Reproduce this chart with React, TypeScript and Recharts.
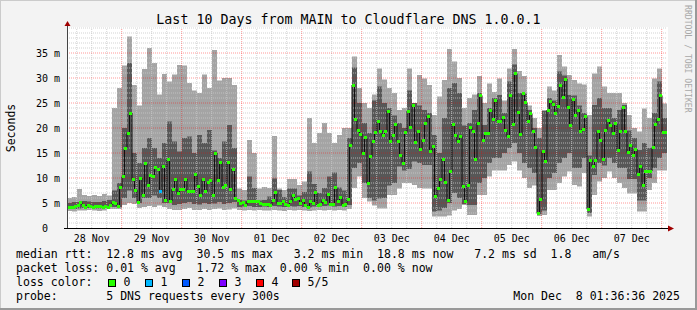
import React from 'react';
import { ComposedChart, Area, Line, XAxis, YAxis, ReferenceLine } from 'recharts';

const MONO = '"DejaVu Sans Mono", monospace';

// x axis: 2-hour buckets, 120 buckets over 10 days
const dayLabels = ['28 Nov', '29 Nov', '30 Nov', '01 Dec', '02 Dec', '03 Dec', '04 Dec', '05 Dec', '06 Dec', '07 Dec'];
const noonAt = [4.94, 16.94, 28.94, 40.94, 52.94, 64.94, 76.94, 88.94, 100.94, 112.94];
const midnightAt = [10.94, 22.94, 34.94, 46.94, 58.94, 70.94, 82.94, 94.94, 106.94, 118.94];
const yTicks = [0, 5, 10, 15, 20, 25, 30, 35];

// smoke (ms): outer band min..max, inner band lo..hi
const mins = [
  3.4, 3.3, 3.5, 3.5, 3.6, 3.5, 3.4, 3.5, 3.8,
  3.8, 3.8, 4.6, 5.0, 4.8, 4.0, 4.2, 4.4, 4.2, 4.5,
  4.2, 3.8, 3.6, 3.6, 3.8, 4.0, 3.6, 3.6, 3.8, 3.6, 3.8, 3.9, 3.6, 3.7, 3.9,
  3.6, 3.5, 3.6, 3.5, 3.6, 3.5,
  3.5, 3.6, 3.5, 3.4, 3.6, 3.5, 3.6, 3.5, 3.4, 3.5, 3.6, 3.5, 3.6, 3.5, 3.6, 3.5, 3.8,
  8.0, 10.3, 6.0,
  5.3, 4.5, 3.9, 3.9, 6.6, 6.6, 7.9, 9.0, 9.0, 8.6, 8.0, 7.9, 7.9, 2.3, 2.3, 2.3, 2.5, 3.5, 3.8, 4.6,
  2.6, 2.6, 6.6, 6.6, 10.3, 11.5, 11.5, 11.5, 12.6, 13.3, 11.5, 10.0, 8.0, 8.5, 2.4, 2.6, 7.6, 7.6, 9.0, 10.3,
  11.3, 8.6, 8.3, 11.0, 2.3, 6.6, 9.3, 10.0, 11.3, 10.0, 9.0, 8.0, 6.9, 6.9, 3.3, 3.3, 7.6, 9.0, 11.5, 11.5,
];
const los = [
  3.8, 3.8, 3.9, 4.0, 4.0, 3.9, 3.9, 4.0, 4.2,
  4.2, 4.2, 6.0, 7.5, 6.0, 5.0, 6.0, 6.0, 6.5, 6.0,
  5.0, 5.0, 4.6, 4.8, 5.0, 5.2, 4.8, 4.7, 5.0, 4.8, 4.9, 5.2, 4.8, 5.0, 5.2,
  4.2, 4.3, 4.4, 4.2, 4.2, 4.3,
  4.2, 4.4, 4.3, 4.2, 4.4, 4.3, 4.4, 4.2, 4.1, 4.3, 4.3, 4.4, 4.5, 4.3, 4.4, 4.2, 4.6,
  12.0, 13.0, 9.0,
  6.0, 5.5, 5.9, 6.0, 8.5, 9.0, 12.3, 11.5, 11.8, 13.3, 13.0, 12.6, 12.6, 3.3, 3.5, 4.0, 5.0, 7.0, 6.0, 4.8,
  4.6, 4.6, 9.0, 10.0, 13.0, 14.0, 14.0, 15.0, 16.0, 17.0, 15.0, 13.0, 12.0, 11.0, 2.8, 3.5, 10.0, 11.0, 13.0, 14.0,
  15.0, 12.0, 12.0, 14.0, 3.0, 10.6, 13.0, 12.5, 14.0, 13.0, 12.0, 12.0, 9.8, 9.8, 5.5, 5.5, 10.0, 12.0, 14.0, 15.0,
];
const his = [
  5.0, 5.2, 5.2, 5.4, 5.3, 5.2, 5.2, 5.4, 5.6,
  7.5, 9.0, 20.0, 33.0, 15.0, 13.0, 16.0, 18.0, 16.0, 14.0,
  17.0, 21.3, 17.3, 15.3, 18.0, 18.3, 15.0, 18.6, 17.0, 19.6, 15.5, 14.0, 17.3, 20.6, 16.0,
  5.6, 5.5, 10.3, 8.0, 5.5, 5.6,
  6.3, 9.9, 7.6, 6.2, 7.9, 7.9, 6.5, 7.2, 11.3, 8.8, 7.0, 8.0, 10.3, 11.1, 8.1, 7.5, 18.0,
  32.1, 25.0, 21.0,
  19.0, 25.5, 28.3, 25.0, 24.0, 22.5, 21.0, 20.0, 27.5, 25.0, 24.5, 23.6, 23.0, 18.6, 15.0, 22.0, 28.0, 29.0, 27.0, 20.5,
  21.0, 23.6, 27.0, 20.6, 24.0, 26.0, 26.6, 23.0, 29.3, 32.7, 27.0, 27.0, 23.6, 20.0, 18.0, 23.5, 26.0, 25.5, 31.3, 30.5,
  26.6, 26.5, 24.5, 23.0, 14.5, 24.6, 26.0, 24.0, 24.0, 22.0, 23.6, 24.6, 19.5, 18.0, 15.6, 17.0, 16.0, 23.0, 29.3, 22.0,
];
const maxs = [
  6.0, 6.2, 7.8, 6.6, 6.4, 6.6, 6.4, 6.8, 6.5,
  24.0, 28.0, 32.5, 38.3, 28.6, 24.5, 31.8, 36.0, 33.0, 26.7,
  30.8, 29.3, 30.7, 32.6, 32.5, 29.0, 27.5, 27.0, 30.7, 28.0, 35.6, 29.5, 30.0, 30.0, 28.6,
  7.9, 7.6, 17.6, 15.0, 7.9, 8.2,
  8.0, 18.4, 7.9, 7.6, 9.8, 9.8, 8.6, 9.3, 22.0, 17.0, 19.0, 21.0, 19.0, 17.0, 18.6, 20.0, 20.0,
  34.3, 28.0, 25.0,
  24.0, 26.7, 31.9, 29.7, 28.0, 27.0, 23.6, 24.0, 31.9, 25.0, 30.6, 29.9, 28.6, 22.6, 26.3, 29.6, 35.8, 33.3, 30.0, 24.0,
  26.0, 26.7, 30.4, 25.0, 28.9, 27.2, 29.9, 25.5, 31.9, 35.8, 31.4, 30.4, 24.5, 22.0, 20.0, 22.9, 28.3, 27.5, 34.6, 32.3,
  30.6, 29.6, 28.9, 28.7, 22.6, 30.9, 32.3, 28.3, 27.0, 27.0, 27.0, 25.0, 22.6, 20.0, 19.3, 23.9, 22.0, 29.9, 31.9, 24.9,
];

// median rtt, first and second hour of each bucket
const medA = [
  4.1, 4.1, 4.6, 4.6, 4.6, 4.1, 4.4, 4.1, 4.1, 5.1,
  4.4, 10.3, 18.9, 9.7, 5.1, 6.6, 8.5, 10.4, 11.8, 12.4,
  13.7, 7.7, 6.9, 7.8, 7.4, 7.3, 8.4, 9.7, 9.1, 6.5,
  9.5, 8.2, 13.1, 11.8, 5.5, 5.2, 5.3, 5.3, 5.3, 4.8,
  4.8, 5.5, 4.9, 5.3, 4.6, 6.5, 5.9, 5.5, 4.1, 4.9,
  4.6, 5.5, 6.8, 4.8, 5.3, 4.6, 5.7, 28.6, 19.5, 14.9,
  8.9, 17.3, 21.3, 18.5, 23.4, 18.5, 17.3, 12.9, 23.4, 24.5,
  19.3, 17.6, 22.4, 16.3, 7.9, 13.8, 5.5, 20.8, 17.3, 8.3,
  8.5, 19.4, 21.0, 17.5, 18.9, 21.8, 21.3, 22.1, 18.3, 20.7,
  23.1, 26.9, 21.4, 19.4, 2.9, 15.3, 23.6, 24.8, 24.4, 26.1,
  24.1, 25.8, 23.6, 19.8, 3.8, 12.4, 19.3, 13.8, 21.6, 18.9,
  15.6, 24.1, 15.1, 14.6, 10.8, 8.5, 11.4, 16.1, 21.8, 19.1,
];
const medB = [
  4.1, 4.4, 5.1, 4.1, 4.4, 4.4, 4.4, 4.4, 4.6, 5.0,
  8.1, 15.9, 23.0, 7.5, 10.0, 12.9, 10.5, 12.1, 7.3, 5.5,
  5.4, 9.7, 7.8, 9.8, 7.3, 10.7, 6.6, 7.3, 9.5, 15.0,
  13.1, 8.5, 7.7, 5.9, 4.9, 4.6, 5.3, 5.3, 5.0, 4.8,
  4.6, 7.1, 4.9, 4.8, 5.3, 5.8, 4.9, 4.6, 5.3, 7.1,
  4.8, 5.1, 4.8, 8.1, 6.1, 4.8, 16.6, 21.7, 18.8, 18.1,
  14.3, 19.1, 19.4, 19.3, 17.3, 20.8, 14.6, 19.1, 20.1, 17.1,
  15.7, 20.9, 15.3, 6.3, 9.8, 9.1, 11.3, 18.6, 18.3, 5.3,
  20.1, 13.7, 26.5, 18.9, 23.6, 25.6, 21.3, 19.6, 26.6, 30.9,
  18.7, 25.1, 22.9, 16.1, 5.7, 13.3, 25.3, 22.9, 28.6, 29.8,
  20.6, 22.6, 19.3, 22.3, 13.6, 13.6, 17.6, 19.6, 20.6, 20.9,
  19.4, 19.3, 16.5, 15.8, 12.3, 11.3, 11.4, 20.7, 26.5, 19.1,
];
// half-hour slots that lost 1 of 5 packets
const lossOneSlots = [37];

const lossLegend = [
  { label: '0', color: '#26ff00', x: 108.5 },
  { label: '1', color: '#00b8ff', x: 145.5 },
  { label: '2', color: '#0059ff', x: 182.5 },
  { label: '3', color: '#7e00ff', x: 219.5 },
  { label: '4', color: '#ff0000', x: 256.5 },
  { label: '5/5', color: '#a10000', x: 292.5 },
];

const LIGHT = '#a4a4a4';
const DARK = '#575757';

const smoke = mins.map((m, i) => ({ x: i, light: [m, maxs[i]], dark: [los[i], his[i]] }));
smoke.push({ x: 120, light: [mins[119], maxs[119]], dark: [los[119], his[119]] });

const stepPts: { x: number; v: number }[] = [];
const dashPts: { x: number; v: number; c: string }[] = [];
medA.forEach((a, i) => {
  stepPts.push({ x: i, v: a });
  stepPts.push({ x: i + 0.5, v: medB[i] });
  dashPts.push({ x: i + 0.25, v: a, c: lossOneSlots.includes(2 * i) ? '#00b8ff' : '#26ff00' });
  dashPts.push({ x: i + 0.75, v: medB[i], c: lossOneSlots.includes(2 * i + 1) ? '#00b8ff' : '#26ff00' });
});
stepPts.push({ x: 120, v: medB[119] });

const minorY: number[] = [];
for (let v = 1; v <= 40; v++) if (v % 5 !== 0 || v === 40) minorY.push(v);
const majorY = [5, 10, 15, 20, 25, 30, 35];
const minorX: number[] = [];
for (let k = 0; k < 40; k++) if (k % 4 !== 3) minorX.push(1.94 + 3 * k);

const YTick = (p: any) => {
  const v = p.payload.value;
  return (
    <text x={v === 0 ? 48 : 60} y={p.y + 3.5} textAnchor="end" fontSize={10} fontFamily={MONO} fill="#000">
      {v === 0 ? '0' : `${v} m`}
    </text>
  );
};

const XTick = (p: any) => {
  const idx = noonAt.indexOf(p.payload.value);
  return (
    <text x={p.x} y={241.5} textAnchor="middle" fontSize={10} fontFamily={MONO} fill="#000">
      {dayLabels[idx]}
    </text>
  );
};

const Dash = (p: any) => {
  const { cx, cy, payload, index } = p;
  if (cx == null || cy == null) return <g key={`d${index}`} />;
  return <rect key={`d${index}`} x={cx - 1.5} y={cy - 1.5} width={3} height={3} fill={payload.c} shapeRendering="crispEdges" />;
};

export default function App() {
  const legendStyle: any = { whiteSpace: 'pre' };
  return (
    <div style={{ position: 'absolute', left: 0, top: 0, width: 697, height: 310, background: '#f3f3f3', fontFamily: MONO }}>
      <div style={{ position: 'absolute', left: 67, top: 27, width: 601, height: 201, background: '#fff' }} />
      <div style={{ position: 'absolute', left: 0, top: 0 }}>
        <ComposedChart width={697} height={310} data={smoke} margin={{ top: 28, right: 30, bottom: 52, left: 7 }}>
          <XAxis
            type="number"
            dataKey="x"
            domain={[0, 120]}
            allowDataOverflow
            ticks={noonAt}
            interval={0}
            tick={<XTick />}
            tickLine={false}
            axisLine={false}
            height={30}
          />
          <YAxis
            type="number"
            domain={[0, 40]}
            allowDataOverflow
            ticks={yTicks}
            interval={0}
            tick={<YTick />}
            tickLine={false}
            axisLine={false}
            width={60}
          />
          <Area dataKey="light" type="stepAfter" stroke="none" fill={LIGHT} fillOpacity={1} isAnimationActive={false} />
          <Area dataKey="dark" type="stepAfter" stroke="none" fill={DARK} fillOpacity={1} isAnimationActive={false} />
          {minorY.map((v) => (
            <ReferenceLine key={`hy${v}`} y={v} stroke="#c8c8c8" strokeOpacity={0.8} strokeDasharray="1 1" />
          ))}
          {minorX.map((v) => (
            <ReferenceLine key={`vx${v}`} x={v} stroke="#c8c8c8" strokeOpacity={0.8} strokeDasharray="1 1" />
          ))}
          {majorY.map((v) => (
            <ReferenceLine key={`my${v}`} y={v} stroke="#ff0000" strokeOpacity={0.4} strokeDasharray="1 1" />
          ))}
          {midnightAt.map((v) => (
            <ReferenceLine key={`mx${v}`} x={v} stroke="#ff0000" strokeOpacity={0.4} strokeDasharray="1 1" />
          ))}
          <Line
            data={stepPts}
            dataKey="v"
            type="stepAfter"
            stroke="#111"
            strokeWidth={1}
            dot={false}
            activeDot={false}
            isAnimationActive={false}
          />
          <Line
            data={dashPts}
            dataKey="v"
            stroke="none"
            dot={<Dash />}
            activeDot={false}
            isAnimationActive={false}
          />
        </ComposedChart>
      </div>
      <svg width={697} height={310} style={{ position: 'absolute', left: 0, top: 0, pointerEvents: 'none' }}>
        {/* frame */}
        <line x1={0} y1={0.5} x2={697} y2={0.5} stroke="#cbcbcb" strokeWidth={1} />
        <line x1={0.5} y1={0} x2={0.5} y2={310} stroke="#cbcbcb" strokeWidth={1} />
        <line x1={0} y1={309} x2={697} y2={309} stroke="#999" strokeWidth={2} />
        <line x1={696} y1={0} x2={696} y2={310} stroke="#999" strokeWidth={2} />
        {/* axes */}
        <line x1={67.5} y1={25} x2={67.5} y2={229} stroke="#444" strokeWidth={1} />
        <line x1={64} y1={228.5} x2={669} y2={228.5} stroke="#000" strokeWidth={1} />
        <polygon points="67.5,21 64.5,26 70.5,26" fill="#a00000" />
        <polygon points="674,228.5 668,225.5 668,231.5" fill="#a00000" />
        <text x={348.5} y={24} textAnchor="middle" fontSize={13.3} fontFamily={MONO} fill="#000">
          Last 10 Days from MAIN to Cloudflare DNS 1.0.0.1
        </text>
        <text transform="translate(14.5,128) rotate(-90)" textAnchor="middle" fontSize={11.5} fontFamily={MONO} fill="#000">
          Seconds
        </text>
        <text transform="translate(684.5,5) rotate(90)" fontSize={8.15} fontFamily={MONO} fill="#a8a8a8">
          RRDTOOL / TOBI OETIKER
        </text>
        <g fontSize={11.54} fontFamily={MONO} fill="#000">
          <text x={16} y={258} style={legendStyle}>
            {'median rtt:  12.8 ms avg  30.5 ms max   3.2 ms min  18.8 ms now   7.2 ms sd  1.8   am/s'}
          </text>
          <text x={16} y={272} style={legendStyle}>
            {'packet loss: 0.01 % avg   1.72 % max  0.00 % min  0.00 % now'}
          </text>
          <text x={16} y={286} style={legendStyle}>
            {'loss color:'}
          </text>
          {lossLegend.map((l) => (
            <g key={l.label}>
              <rect x={l.x} y={279.5} width={7} height={7} fill={l.color} stroke="#000" strokeWidth={1} />
              <text x={l.x + 15} y={286} style={legendStyle}>
                {l.label}
              </text>
            </g>
          ))}
          <text x={16} y={300} style={legendStyle}>
            {'probe:       5 DNS requests every 300s'}
          </text>
          <text x={513.3} y={300} style={legendStyle}>
            {'Mon Dec  8 01:36:36 2025'}
          </text>
        </g>
      </svg>
    </div>
  );
}
